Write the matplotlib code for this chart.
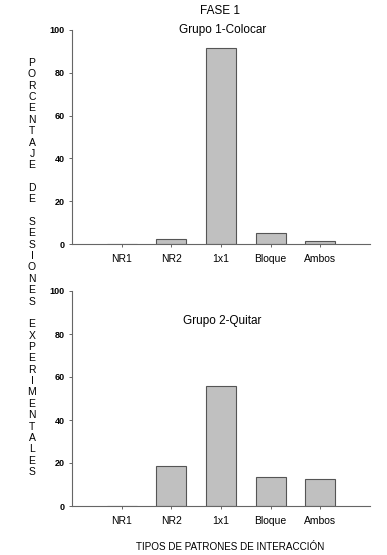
import matplotlib.pyplot as plt
import numpy as np

plt.rcParams['font.family'] = ['Liberation Sans', 'DejaVu Sans']

# Data
categorias = ['NR1', 'NR2', '1x1', 'Bloque', 'Ambos']
grupo1_colocar = [0, 2.5, 91.4, 5.0, 1.4]
grupo2_quitar = [0, 18.5, 55.6, 13.4, 12.4]
yticks = [0, 20, 40, 60, 80, 100]
ylabel_words = ['PORCENTAJE', 'DE', 'SESIONES', 'EXPERIMENTALES']


def bar_panel(ax, values, title, title_y):
    '''
    One panel of grey bars
    '''
    x = np.arange(1, len(categorias) + 1)
    ax.bar(x, values, width=0.6, color='#c0c0c0',
           edgecolor='#555555', linewidth=0.8)
    ax.set_xlim(0, 6.0)
    ax.set_ylim(0, 100)
    ax.set_xticks(x)
    ax.set_xticklabels(categorias, fontsize=7.5)
    ax.set_yticks(yticks)
    ax.set_yticklabels([str(t) for t in yticks], fontsize=6.5, fontweight='bold')
    for side in ['top', 'right']:
        ax.spines[side].set_visible(False)
    for side in ['left', 'bottom']:
        ax.spines[side].set_color('#666666')
        ax.spines[side].set_linewidth(0.8)
    ax.tick_params(axis='both', direction='out', length=2.5, width=0.7,
                   color='#666666', pad=3)
    ax.tick_params(axis='x', pad=5)
    ax.text(0.505, title_y, title, transform=ax.transAxes,
            ha='center', va='center', fontsize=8.5)


# Figure
fig = plt.figure(figsize=(3.87, 5.55), dpi=100)
W, H = 387, 555

# Top panel: x 72..370, y 30..244 px
ax1 = fig.add_axes([72 / W, 1 - 244 / H, 298 / W, 214 / H])
bar_panel(ax1, grupo1_colocar, 'Grupo 1-Colocar', 1.0)

# Bottom panel: x 72..370, y 291..506 px
ax2 = fig.add_axes([72 / W, 1 - 506 / H, 298 / W, 215 / H])
bar_panel(ax2, grupo2_quitar, 'Grupo 2-Quitar', 0.86)

fig.text(220 / W, 1 - 11 / H, 'FASE 1', ha='center', va='center', fontsize=8.5)
fig.text(230 / W, 1 - 547 / H, 'TIPOS DE PATRONES DE INTERACCIÓN',
         ha='center', va='center', fontsize=7.1)

# Vertical stacked letters
stack = '\n\n'.join('\n'.join(w) for w in ylabel_words)
fig.text(32 / W, 1 - 58 / H, stack, ha='center', va='top',
         fontsize=7.5, linespacing=1.17)

fig.savefig('out.png', dpi=100)
